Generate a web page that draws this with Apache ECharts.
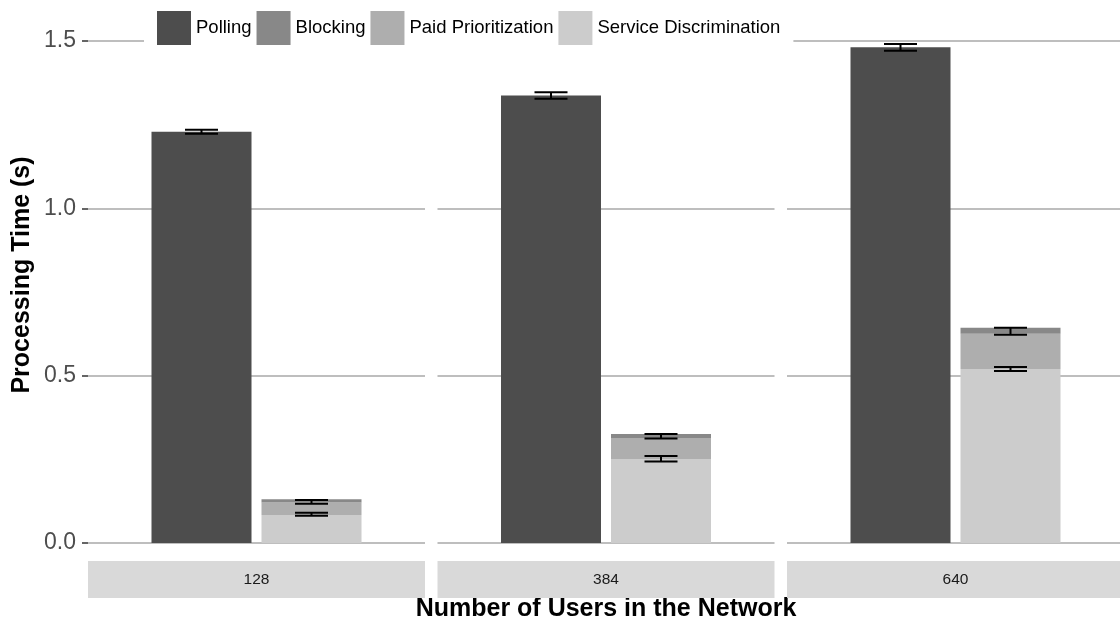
<!DOCTYPE html>
<html>
<head>
<meta charset="utf-8">
<script src="https://cdn.jsdelivr.net/npm/echarts@6/dist/echarts.min.js"></script>
<style>
  html, body { margin: 0; padding: 0; background: #fff; }
  #chart { width: 1120px; height: 619px; }
</style>
</head>
<body>
<div id="chart"></div>
<script>
// Network sizes (one facet per size)
const USERS = ['128', '384', '640'];

// Mean processing time (s) per approach
const POLLING = [1.229, 1.337, 1.481];
const SERVICE_DISCRIMINATION = [0.084, 0.251, 0.520];
const PAID_PRIORITIZATION = [0.037, 0.063, 0.105];
const BLOCKING = [0.010, 0.012, 0.018];

// Error bars: centre and half-width
const POLLING_ERR = [0.006, 0.0095, 0.010];
const FILTER_ERR_MID = [0.123, 0.319, 0.633];
const FILTER_ERR = [0.0055, 0.007, 0.0105];
const SERVICE_ERR_MID = [0.086, 0.2517, 0.520];
const SERVICE_ERR = [0.0045, 0.0085, 0.006];

const Y_TICKS = [0, 0.5, 1.0, 1.5];

const LEGEND_NAMES = ['Polling', 'Blocking', 'Paid Prioritization', 'Service Discrimination'];
const COLORS = {
  'Polling': '#4d4d4d',
  'Blocking': '#888888',
  'Paid Prioritization': '#aeaeae',
  'Service Discrimination': '#cccccc'
};

// Layout constants
const FONT = '"Liberation Sans", Arial, Helvetica, sans-serif';
const PANEL_LEFT = 88, PANEL_W = 337, PANEL_STEP = 349.5;
const GRID_TOP = 41, GRID_BOTTOM = 76;
const BAR_W = 100, BAR_GAP = 10, WHISKER_W = 33;

const chart = echarts.init(document.getElementById('chart'), null, { renderer: 'canvas' });

const grids = [], xAxes = [], yAxes = [], series = [];

function renderErr(params, api) {
  const mid = api.value(1), half = api.value(2), side = api.value(3);
  const top = api.coord([0, mid + half]);
  const bot = api.coord([0, mid - half]);
  const x = top[0] + side * (BAR_W + BAR_GAP) / 2;
  const hw = WHISKER_W / 2;
  const style = { stroke: '#000', lineWidth: 2 };
  return {
    type: 'group',
    children: [
      { type: 'line', shape: { x1: x - hw, y1: top[1], x2: x + hw, y2: top[1] }, style },
      { type: 'line', shape: { x1: x - hw, y1: bot[1], x2: x + hw, y2: bot[1] }, style },
      { type: 'line', shape: { x1: x, y1: top[1], x2: x, y2: bot[1] }, style }
    ]
  };
}

USERS.forEach((u, i) => {
  grids.push({
    left: PANEL_LEFT + i * PANEL_STEP,
    width: PANEL_W,
    top: GRID_TOP,
    bottom: GRID_BOTTOM,
    containLabel: false,
    outerBoundsMode: 'none'
  });
  xAxes.push({
    type: 'category',
    gridIndex: i,
    data: [u],
    axisLine: { show: false },
    axisTick: { show: false },
    splitLine: { show: false },
    axisLabel: {
      show: true,
      interval: 0,
      margin: 18,
      width: PANEL_W,
      height: 37,
      lineHeight: 37,
      align: 'center',
      verticalAlign: 'top',
      backgroundColor: '#d9d9d9',
      color: '#1a1a1a',
      fontFamily: FONT,
      fontSize: 15.5
    },
    name: i === 1 ? 'Number of Users in the Network' : '',
    nameLocation: 'middle',
    nameGap: 54,
    nameMoveOverlap: false,
    nameTextStyle: { fontFamily: FONT, fontSize: 25, fontWeight: 'bold', color: '#000' }
  });
  yAxes.push({
    type: 'value',
    gridIndex: i,
    min: Y_TICKS[0],
    max: Y_TICKS[Y_TICKS.length - 1],
    interval: 0.5,
    axisLine: { show: false },
    axisTick: { show: i === 0, length: 6, lineStyle: { color: '#333', width: 1.5 } },
    axisLabel: {
      show: i === 0,
      margin: 12,
      color: '#4d4d4d',
      fontFamily: FONT,
      fontSize: 23,
      formatter: v => v.toFixed(1)
    },
    splitLine: { show: true, lineStyle: { color: '#bebebe', width: 2 } }
  });

  series.push({
    name: 'Polling', type: 'bar', xAxisIndex: i, yAxisIndex: i,
    data: [POLLING[i]], barWidth: BAR_W, barGap: (BAR_GAP / BAR_W * 100) + '%',
    itemStyle: { color: COLORS['Polling'] }
  });
  series.push({
    name: 'Service Discrimination', type: 'bar', stack: 'filter' + i, xAxisIndex: i, yAxisIndex: i,
    data: [SERVICE_DISCRIMINATION[i]], barWidth: BAR_W,
    itemStyle: { color: COLORS['Service Discrimination'] }
  });
  series.push({
    name: 'Paid Prioritization', type: 'bar', stack: 'filter' + i, xAxisIndex: i, yAxisIndex: i,
    data: [PAID_PRIORITIZATION[i]], barWidth: BAR_W,
    itemStyle: { color: COLORS['Paid Prioritization'] }
  });
  series.push({
    name: 'Blocking', type: 'bar', stack: 'filter' + i, xAxisIndex: i, yAxisIndex: i,
    data: [BLOCKING[i]], barWidth: BAR_W,
    itemStyle: { color: COLORS['Blocking'] }
  });
  series.push({
    type: 'custom', xAxisIndex: i, yAxisIndex: i, z: 5,
    renderItem: renderErr,
    encode: { x: 0, y: 1 },
    data: [
      [0, POLLING[i], POLLING_ERR[i], -1],
      [0, FILTER_ERR_MID[i], FILTER_ERR[i], 1],
      [0, SERVICE_ERR_MID[i], SERVICE_ERR[i], 1]
    ]
  });
});

chart.setOption({
  animation: false,
  backgroundColor: '#ffffff',
  legend: {
    data: LEGEND_NAMES,
    left: 144,
    top: 0,
    padding: [11, 13, 10, 13],
    itemWidth: 34,
    itemHeight: 34,
    itemGap: 5,
    icon: 'rect',
    backgroundColor: '#ffffff',
    selectedMode: false,
    textStyle: { fontFamily: FONT, fontSize: 18.5, color: '#000' }
  },
  graphic: [{
    type: 'text',
    x: 22,
    y: 275,
    rotation: Math.PI / 2,
    style: {
      text: 'Processing Time (s)',
      fontFamily: FONT, fontSize: 25, fontWeight: 'bold', fill: '#000',
      align: 'center', verticalAlign: 'middle'
    }
  }],
  grid: grids,
  xAxis: xAxes,
  yAxis: yAxes,
  series: series
});
</script>
</body>
</html>
